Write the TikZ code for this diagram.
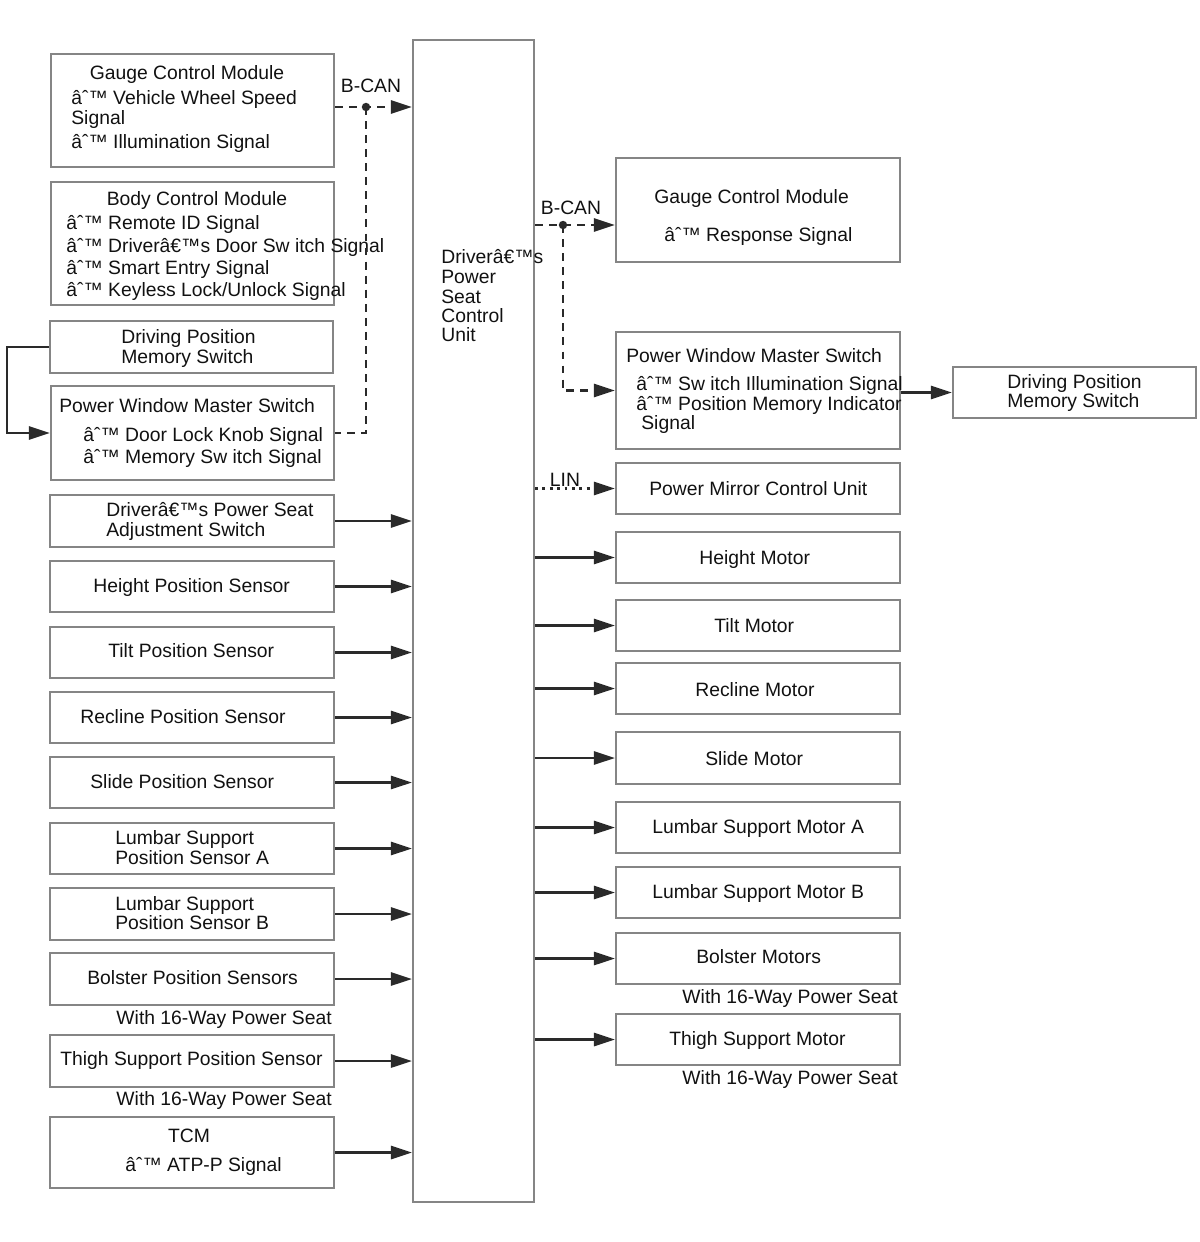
\documentclass[tikz,border=0pt]{standalone}
\usepackage{fontspec}
\setmainfont{Liberation Sans}
\usetikzlibrary{arrows.meta,fit,calc}
\definecolor{boxgray}{HTML}{858585}
\definecolor{linegray}{HTML}{2A2A2A}
\definecolor{txtcol}{HTML}{111111}
\newcommand\dfont{\fontsize{11pt}{13pt}\selectfont}
\begin{document}
\begin{tikzpicture}[x=0.02cm,y=-0.02cm,
  box/.style={draw=boxgray, line width=1.2pt, inner sep=0pt},
  lbl/.style={inner sep=0pt, anchor=base west, text=txtcol, font=\dfont},
  clbl/.style={inner sep=0pt, anchor=base, text=txtcol, font=\dfont},
  rlbl/.style={inner sep=0pt, anchor=base east, text=txtcol, font=\dfont},
  arr/.style={-{Triangle[length=12pt,width=7.5pt]}, line width=1.4pt, draw=linegray},
  dsh/.style={arr, dash pattern=on 4.5pt off 3.5pt},
  dshline/.style={line width=1.4pt, draw=linegray, dash pattern=on 4.5pt off 3.5pt},
  dot/.style={arr, dash pattern=on 1.6pt off 2.6pt}]
\useasboundingbox (0,0) rectangle (1200,1242);

% ---------------- central unit
\node[box, fit={(413,40) (534,1202)}] (psu) {};
\node[lbl] (psut1) at (441,263) {Driverâ€™s};
\node[lbl] (psut2) at (441,283) {Power};
\node[lbl] (psut3) at (441,303) {Seat};
\node[lbl] (psut4) at (441,322) {Control};
\node[lbl] (psut5) at (441,341) {Unit};

% ---------------- left column
\node[box, fit={(51,54) (334,167)}] (gcmL) {};
\node[clbl] (gcmLt) at (187,79) {Gauge Control Module};
\node[lbl] (gcmL1) at (71,104) {âˆ™ Vehicle Wheel Speed};
\node[lbl] (gcmL2) at (71,124) {Signal};
\node[lbl] (gcmL3) at (71,148) {âˆ™ Illumination Signal};

\node[box, fit={(51,182) (334,305)}] (bcm) {};
\node[clbl] (bcmt) at (197,205) {Body Control Module};
\node[lbl] (bcm1) at (66,229) {âˆ™ Remote ID Signal};
\node[lbl] (bcm2) at (66,252) {âˆ™ Driverâ€™s Door Sw itch Signal};
\node[lbl] (bcm3) at (66,274) {âˆ™ Smart Entry Signal};
\node[lbl] (bcm4) at (66,296) {âˆ™ Keyless Lock/Unlock Signal};

\node[box, fit={(50,321) (333,373)}] (dpmL) {};
\node[lbl] (dpmL1) at (121,343) {Driving Position};
\node[lbl] (dpmL2) at (121,363) {Memory Switch};

\node[box, fit={(51,386) (334,480)}] (pwmL) {};
\node[lbl] (pwmLt) at (59,412) {Power Window Master Switch};
\node[lbl] (pwmL1) at (83,441) {âˆ™ Door Lock Knob Signal};
\node[lbl] (pwmL2) at (83,463) {âˆ™ Memory Sw itch Signal};

\node[box, fit={(50,495) (334,547)}] (adj) {};
\node[lbl] (adj1) at (106,516) {Driverâ€™s Power Seat};
\node[lbl] (adj2) at (106,536) {Adjustment Switch};

\node[box, fit={(50,561) (334,612)}] (hps) {};
\node[lbl] (hpst) at (93,592) {Height Position Sensor};

\node[box, fit={(50,627) (334,678)}] (tps) {};
\node[lbl] (tpst) at (108,657) {Tilt Position Sensor};

\node[box, fit={(50,692) (334,743)}] (rps) {};
\node[lbl] (rpst) at (80,723) {Recline Position Sensor};

\node[box, fit={(50,757) (334,808)}] (sps) {};
\node[lbl] (spst) at (90,788) {Slide Position Sensor};

\node[box, fit={(50,823) (334,874)}] (lpa) {};
\node[lbl] (lpa1) at (115,844) {Lumbar Support};
\node[lbl] (lpa2) at (115,864) {Position Sensor A};

\node[box, fit={(50,888) (334,940)}] (lpb) {};
\node[lbl] (lpb1) at (115,910) {Lumbar Support};
\node[lbl] (lpb2) at (115,929) {Position Sensor B};

\node[box, fit={(50,953) (334,1005)}] (bps) {};
\node[lbl] (bpst) at (87,984) {Bolster Position Sensors};
\node[rlbl] (bpsw) at (332,1024) {With 16-Way Power Seat};

\node[box, fit={(50,1035) (334,1087)}] (tsps) {};
\node[lbl] (tspst) at (60,1065) {Thigh Support Position Sensor};
\node[rlbl] (tspsw) at (332,1105) {With 16-Way Power Seat};

\node[box, fit={(50,1117) (334,1188)}] (tcm) {};
\node[clbl] (tcmt) at (189,1142) {TCM};
\node[lbl] (tcm1) at (125,1171) {âˆ™ ATP-P Signal};

% ---------------- right column
\node[box, fit={(616,158) (900,262)}] (gcmR) {};
\node[lbl] (gcmRt) at (654,203) {Gauge Control Module};
\node[lbl] (gcmR1) at (664,241) {âˆ™ Response Signal};

\node[box, fit={(616,332) (900,449)}] (pwmR) {};
\node[lbl] (pwmRt) at (626,362) {Power Window Master Switch};
\node[lbl] (pwmR1) at (636,390) {âˆ™ Sw itch Illumination Signal};
\node[lbl] (pwmR2) at (636,410) {âˆ™ Position Memory Indicator};
\node[lbl] (pwmR3) at (641,429) {Signal};

\node[box, fit={(953,367) (1196,418)}] (dpmR) {};
\node[lbl] (dpmR1) at (1007,388) {Driving Position};
\node[lbl] (dpmR2) at (1007,407) {Memory Switch};

\node[box, fit={(616,463) (900,514)}] (pmcu) {};
\node[lbl] (pmcut) at (649,495) {Power Mirror Control Unit};

\node[box, fit={(616,532) (900,583)}] (hm) {};
\node[lbl] (hmt) at (699,564) {Height Motor};

\node[box, fit={(616,600) (900,651)}] (tm) {};
\node[lbl] (tmt) at (714,632) {Tilt Motor};

\node[box, fit={(616,663) (900,714)}] (rm) {};
\node[lbl] (rmt) at (695,696) {Recline Motor};

\node[box, fit={(616,732) (900,784)}] (sm) {};
\node[lbl] (smt) at (705,765) {Slide Motor};

\node[box, fit={(616,802) (900,853)}] (lma) {};
\node[lbl] (lmat) at (652,833) {Lumbar Support Motor A};

\node[box, fit={(616,867) (900,918)}] (lmb) {};
\node[lbl] (lmbt) at (652,898) {Lumbar Support Motor B};

\node[box, fit={(616,933) (900,984)}] (bm) {};
\node[lbl] (bmt) at (696,963) {Bolster Motors};
\node[rlbl] (bmw) at (898,1003) {With 16-Way Power Seat};

\node[box, fit={(616,1014) (900,1065)}] (tsm) {};
\node[lbl] (tsmt) at (669,1045) {Thigh Support Motor};
\node[rlbl] (tsmw) at (898,1084) {With 16-Way Power Seat};

% ---------------- bus labels
\node[clbl] (bcanL) at (371,92) {B-CAN};
\node[clbl] (bcanR) at (571,214) {B-CAN};
\node[clbl] (lin) at (565,486) {LIN};

% ---------------- connectors: left B-CAN
\coordinate (j1) at (366,107);
\draw[dsh] (gcmL.east |- j1) -- (psu.west |- j1);
\draw[dshline] (j1) |- (pwmL.east);
\fill[linegray] (j1) circle[radius=2.4pt];

% left loop
\draw[arr] (dpmL.west) -- ++(-42,0) |- (pwmL.west);

% left inputs
\foreach \n in {adj,hps,tps,rps,sps,lpa,lpb,bps,tsps,tcm}
  \draw[arr] (\n.east) -- (\n.east -| psu.west);

% right B-CAN
\coordinate (j2) at (563,225);
\draw[dsh] (psu.east |- j2) -- (gcmR.west |- j2);
\draw[dsh] (j2) |- (pwmR.west);
\fill[linegray] (j2) circle[radius=2.4pt];

% PWM -> DPM right
\draw[arr] (pwmR.east |- dpmR.west) -- (dpmR.west);

% LIN
\draw[dot] (psu.east |- pmcu.west) -- (pmcu.west);

% outputs
\foreach \n in {hm,tm,rm,sm,lma,lmb,bm,tsm}
  \draw[arr] (psu.east |- \n.west) -- (\n.west);
\end{tikzpicture}
\end{document}
